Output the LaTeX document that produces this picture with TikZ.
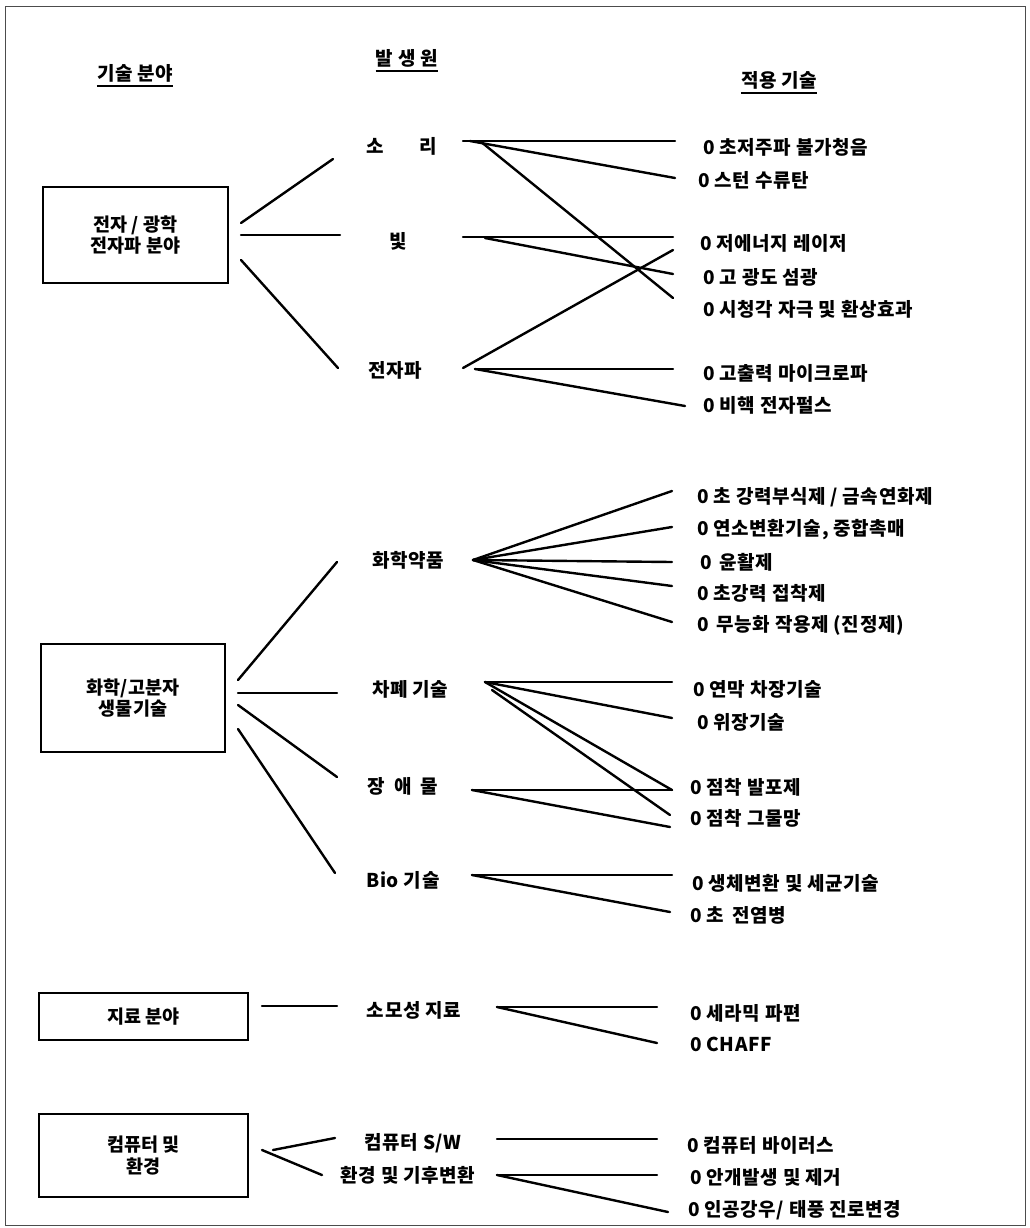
\documentclass[tikz,border=0pt]{standalone}
\usepackage{fontspec}
\setmainfont{Noto Sans CJK KR}
\newfontfamily\widekr[LetterSpace=3]{Noto Sans CJK KR}
\newcommand\lblfont{\widekr\fontsize{19}{21}\selectfont\bfseries}
\newcommand\boxfont{\fontsize{18.5}{21.5}\selectfont\bfseries}
\tikzset{
  lbl/.style={inner sep=0pt, font=\lblfont},
  item/.style={lbl, anchor=west},
  fieldbox/.style={draw, line width=1.8pt, inner sep=0pt, align=center, font=\boxfont},
  conn/.style={line width=2.4pt, line cap=round},
  uline/.style={line width=1.4pt},
  frame/.style={line width=1pt, draw=black!70}
}
\begin{document}
\begin{tikzpicture}[x=1pt,y=-1pt]
\useasboundingbox (0,0) rectangle (1030,1228);
\draw[frame] (5,7) rectangle (1025,1225);

% headers
\node[lbl] (h1) at (135,73) {기술 분야};
\node[lbl] (h2) at (407,58) {발 생 원};
\node[lbl] (h3) at (779,80) {적용 기술};
\foreach \h in {h1,h2,h3}
  \draw[uline] ([yshift=-4pt]\h.south west) -- ([yshift=-4pt]\h.south east);

% field boxes
\node[fieldbox, minimum width=185pt, minimum height=96pt] (b1) at (135.5,235) {전자 / 광학\\전자파 분야};
\node[fieldbox, minimum width=184pt, minimum height=108pt] (b2) at (133,698) {화학/고분자\\생물기술};
\node[fieldbox, minimum width=209pt, minimum height=47pt] (b3) at (143.5,1016.5) {지료 분야};
\node[fieldbox, minimum width=209pt, minimum height=83pt] (b4) at (143.5,1155.5) {컴퓨터 및\\환경};

% sources
\node[lbl] (s1) at (402,146) {소\hspace{36pt}리};
\node[lbl] (s2) at (398,241) {빛};
\node[lbl] (s3) at (395,370) {전자파};
\node[lbl] (s4) at (408,560) {화학약품};
\node[lbl] (s5) at (410,689) {차폐 기술};
\node[lbl] (s6) at (403,786) {장\hspace{9pt}애\hspace{9pt}물};
\node[lbl] (s7) at (403,880) {Bio 기술};
\node[lbl] (s8) at (414,1010) {소모성 지료};
\node[lbl] (s9) at (413,1143) {컴퓨터 S/W};
\node[lbl] (s10) at (408,1175) {환경 및 기후변환};

% applied technologies
\node[item] (r1) at (703,147) {0 초저주파 불가청음};
\node[item] (r2) at (698,180) {0 스턴 수류탄};
\node[item] (r3) at (700,243) {0 저에너지 레이저};
\node[item] (r4) at (703,277) {0 고 광도 섬광};
\node[item] (r5) at (703,309) {0 시청각 자극 및 환상효과};
\node[item] (r6) at (703,373) {0 고출력 마이크로파};
\node[item] (r7) at (703,405) {0 비핵 전자펄스};
\node[item] (r8) at (697,497) {0 초 강력부식제 / 금속연화제};
\node[item] (r9) at (697,530) {0 연소변환기술, 중합촉매};
\node[item] (r10) at (700,562) {0\hspace{8pt}윤활제};
\node[item] (r11) at (697,593) {0 초강력 접착제};
\node[item] (r12) at (697,625) {0\hspace{8pt}무능화 작용제 (진정제)};
\node[item] (r13) at (693,689) {0 연막 차장기술};
\node[item] (r14) at (697,722) {0 위장기술};
\node[item] (r15) at (690,787) {0 점착 발포제};
\node[item] (r16) at (690,818) {0 점착 그물망};
\node[item] (r17) at (692,883) {0 생체변환 및 세균기술};
\node[item] (r18) at (690,915) {0 초\hspace{8pt}전염병};
\node[item] (r19) at (690,1013) {0 세라믹 파편};
\node[item] (r20) at (690,1044) {0 CHAFF};
\node[item] (r21) at (687,1145) {0 컴퓨터 바이러스};
\node[item] (r22) at (690,1177) {0 안개발생 및 제거};
\node[item] (r23) at (688,1210) {0 인공강우/ 태풍 진로변경};

% connector end points
\coordinate (b1a) at (241,223); \coordinate (s1w) at (333,159);
\coordinate (b1b) at (241,235); \coordinate (s2w) at (340,235);
\coordinate (b1c) at (241,260); \coordinate (s3w) at (338,368);
\coordinate (s1e) at (463,141); \coordinate (s1f) at (470,141); \coordinate (s1g) at (480,141);
\coordinate (r1w) at (675,141); \coordinate (r2w) at (675,178); \coordinate (r5w) at (673,298);
\coordinate (s2e) at (463,237); \coordinate (s2f) at (485,238);
\coordinate (r3w) at (673,237); \coordinate (r4w) at (673,274);
\coordinate (s3e) at (463,368); \coordinate (s3f) at (475,369);
\coordinate (r3x) at (673,250); \coordinate (r6w) at (673,369); \coordinate (r7w) at (685,406);

\coordinate (b2a) at (238,680); \coordinate (s4w) at (337,562);
\coordinate (b2b) at (238,693); \coordinate (s5w) at (337,693);
\coordinate (b2c) at (238,705); \coordinate (s6w) at (337,777);
\coordinate (b2d) at (238,729); \coordinate (s7w) at (335,873);
\coordinate (s4e) at (473,560);
\coordinate (r8w) at (672,491); \coordinate (r9w) at (672,527); \coordinate (r10w) at (672,562);
\coordinate (r11w) at (672,586); \coordinate (r12w) at (672,622);
\coordinate (s5e) at (485,682); \coordinate (s5f) at (492,690);
\coordinate (r13w) at (672,682); \coordinate (r14w) at (672,718);
\coordinate (r15w) at (672,790); \coordinate (r16w) at (670,815);
\coordinate (s6e) at (472,790); \coordinate (r15x) at (672,790); \coordinate (r16x) at (670,827);
\coordinate (s7e) at (472,875); \coordinate (r17w) at (672,875); \coordinate (r18w) at (670,912);

\coordinate (b3e) at (262,1006); \coordinate (s8w) at (337,1006);
\coordinate (s8e) at (497,1007); \coordinate (r19w) at (657,1007); \coordinate (r20w) at (657,1043);
\coordinate (b4a) at (273,1150); \coordinate (s9w) at (335,1138);
\coordinate (b4b) at (262,1150); \coordinate (s10w) at (322,1175);
\coordinate (s9e) at (497,1139); \coordinate (r21w) at (657,1139);
\coordinate (s10e) at (497,1175); \coordinate (r22w) at (657,1175); \coordinate (r23w) at (668,1212);

% connectors
\draw[conn] (b1a) -- (s1w);
\draw[conn] (b1b) -- (s2w);
\draw[conn] (b1c) -- (s3w);
\draw[conn] (s1e) -- (r1w);
\draw[conn] (s1f) -- (r2w);
\draw[conn] (s1g) -- (r5w);
\draw[conn] (s2e) -- (r3w);
\draw[conn] (s2f) -- (r4w);
\draw[conn] (s3e) -- (r3x);
\draw[conn] (s3f) -- (r6w);
\draw[conn] (s3f) -- (r7w);

\draw[conn] (b2a) -- (s4w);
\draw[conn] (b2b) -- (s5w);
\draw[conn] (b2c) -- (s6w);
\draw[conn] (b2d) -- (s7w);
\foreach \t in {r8w,r9w,r10w,r11w,r12w} \draw[conn] (s4e) -- (\t);
\draw[conn] (s5e) -- (r13w);
\draw[conn] (s5e) -- (r14w);
\draw[conn] (s5e) -- (r15w);
\draw[conn] (s5f) -- (r16w);
\draw[conn] (s6e) -- (r15x);
\draw[conn] (s6e) -- (r16x);
\draw[conn] (s7e) -- (r17w);
\draw[conn] (s7e) -- (r18w);

\draw[conn] (b3e) -- (s8w);
\draw[conn] (s8e) -- (r19w);
\draw[conn] (s8e) -- (r20w);
\draw[conn] (b4a) -- (s9w);
\draw[conn] (b4b) -- (s10w);
\draw[conn] (s9e) -- (r21w);
\draw[conn] (s10e) -- (r22w);
\draw[conn] (s10e) -- (r23w);
\end{tikzpicture}
\end{document}
